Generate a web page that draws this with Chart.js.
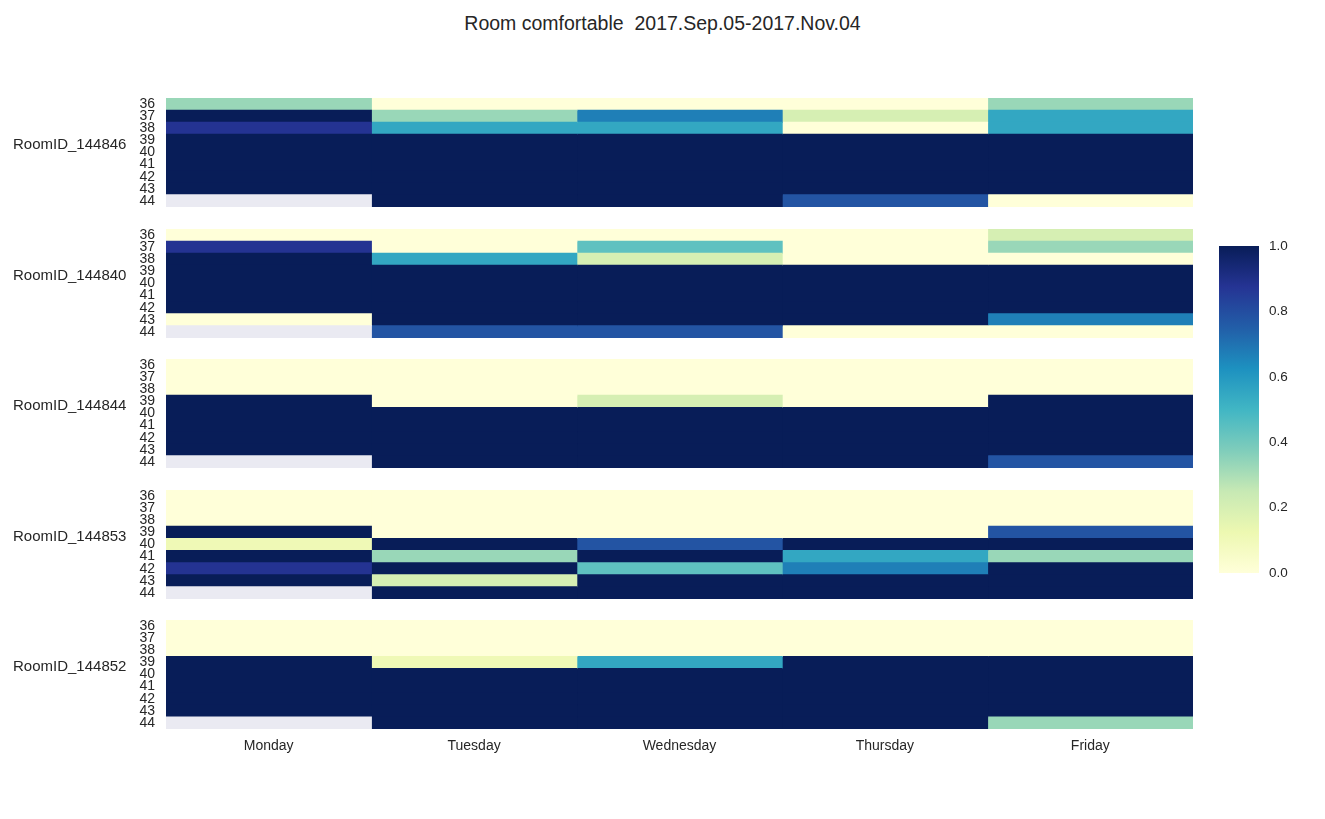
<!DOCTYPE html>
<html>
<head>
<meta charset="utf-8">
<script src="https://cdn.jsdelivr.net/npm/chart.js@4"></script>
<style>
  body { margin: 0; background: #fff; width: 1325px; height: 819px; position: relative; overflow: hidden; }
  .box { position: absolute; }
  #title { position: absolute; top: 12px; left: 0; width: 1325px; text-align: center; white-space: pre;
           font: 19.5px "Liberation Sans", Arial, sans-serif; color: #262626; }
</style>
</head>
<body>
<div id="title">Room comfortable  2017.Sep.05-2017.Nov.04</div>
<div class="box" style="left:0;top:98px;width:1193px;height:109px"><canvas id="p0"></canvas></div>
<div class="box" style="left:0;top:229px;width:1193px;height:109px"><canvas id="p1"></canvas></div>
<div class="box" style="left:0;top:359px;width:1193px;height:109px"><canvas id="p2"></canvas></div>
<div class="box" style="left:0;top:490px;width:1193px;height:109px"><canvas id="p3"></canvas></div>
<div class="box" style="left:0;top:620px;width:1193px;height:140px"><canvas id="p4"></canvas></div>
<div class="box" style="left:1219px;top:236px;width:100px;height:347px"><canvas id="cbar"></canvas></div>
<script>
const days = ['Monday', 'Tuesday', 'Wednesday', 'Thursday', 'Friday'];
const rows = ['36', '37', '38', '39', '40', '41', '42', '43', '44'];
const rooms = ['RoomID_144846', 'RoomID_144840', 'RoomID_144844', 'RoomID_144853', 'RoomID_144852'];
const cbarTicks = [0, 0.2, 0.4, 0.6, 0.8, 1.0];

// one line per row (36..44), one value per day (Mon..Fri); null = no data
const room144846 = [
  [0.33, 0, 0, 0, 0.33],
  [1, 0.33, 0.67, 0.2, 0.55],
  [0.88, 0.55, 0.55, 0, 0.55],
  [1, 1, 1, 1, 1],
  [1, 1, 1, 1, 1],
  [1, 1, 1, 1, 1],
  [1, 1, 1, 1, 1],
  [1, 1, 1, 1, 1],
  [null, 1, 1, 0.78, 0]
];
const room144840 = [
  [0, 0, 0, 0, 0.2],
  [0.88, 0, 0.44, 0, 0.33],
  [1, 0.55, 0.2, 0, 0],
  [1, 1, 1, 1, 1],
  [1, 1, 1, 1, 1],
  [1, 1, 1, 1, 1],
  [1, 1, 1, 1, 1],
  [0, 1, 1, 1, 0.67],
  [null, 0.78, 0.78, 0, 0]
];
const room144844 = [
  [0, 0, 0, 0, 0],
  [0, 0, 0, 0, 0],
  [0, 0, 0, 0, 0],
  [1, 0, 0.2, 0, 1],
  [1, 1, 1, 1, 1],
  [1, 1, 1, 1, 1],
  [1, 1, 1, 1, 1],
  [1, 1, 1, 1, 1],
  [null, 1, 1, 1, 0.78]
];
const room144853 = [
  [0, 0, 0, 0, 0],
  [0, 0, 0, 0, 0],
  [0, 0, 0, 0, 0],
  [1, 0, 0, 0, 0.78],
  [0.11, 1, 0.78, 1, 1],
  [1, 0.33, 1, 0.55, 0.33],
  [0.88, 1, 0.44, 0.67, 1],
  [1, 0.2, 1, 1, 1],
  [null, 1, 1, 1, 1]
];
const room144852 = [
  [0, 0, 0, 0, 0],
  [0, 0, 0, 0, 0],
  [0, 0, 0, 0, 0],
  [1, 0.11, 0.55, 1, 1],
  [1, 1, 1, 1, 1],
  [1, 1, 1, 1, 1],
  [1, 1, 1, 1, 1],
  [1, 1, 1, 1, 1],
  [null, 1, 1, 1, 0.33]
];
const roomData = [room144846, room144840, room144844, room144853, room144852];

// YlGnBu
const stops = ['#ffffd9', '#edf8b1', '#c7e9b4', '#7fcdbb', '#41b6c4', '#1d91c0', '#225ea8', '#253494', '#081d58'];
function hex(c) { return [1, 3, 5].map(i => parseInt(c.substr(i, 2), 16)); }
function ylgnbu(v) {
  if (v === null) return '#eaeaf2';
  const t = Math.max(0, Math.min(1, v)) * (stops.length - 1);
  const i = Math.min(Math.floor(t), stops.length - 2);
  const f = t - i;
  const a = hex(stops[i]), b = hex(stops[i + 1]);
  const c = a.map((x, k) => Math.round(x + (b[k] - x) * f));
  return `rgb(${c[0]},${c[1]},${c[2]})`;
}

const font = '"Liberation Sans", Arial, sans-serif';
const txt = '#262626';

// room name to the left of the row labels, a bit above the middle
const roomLabel = {
  id: 'roomLabel',
  afterDraw(chart, args, opts) {
    const { ctx, chartArea } = chart;
    ctx.save();
    ctx.font = `15px ${font}`;
    ctx.fillStyle = txt;
    ctx.textBaseline = 'middle';
    ctx.fillText(opts.text, 13, (chartArea.top + chartArea.bottom) / 2 - 8);
    ctx.restore();
  }
};

rooms.forEach((room, p) => {
  const vals = roomData[p];
  const last = p === rooms.length - 1;
  new Chart(document.getElementById('p' + p), {
    type: 'bar',
    data: {
      labels: rows,
      datasets: days.map((d, j) => ({
        label: d,
        data: rows.map(() => 1),
        backgroundColor: vals.map(r => ylgnbu(r[j])),
        borderWidth: 0,
        inflateAmount: 0.5,
        barPercentage: 1,
        categoryPercentage: 1
      }))
    },
    options: {
      indexAxis: 'y',
      responsive: true,
      maintainAspectRatio: false,
      animation: false,
      layout: { padding: 0 },
      plugins: {
        legend: { display: false },
        tooltip: { enabled: false },
        roomLabel: { text: room }
      },
      scales: {
        x: {
          stacked: true, min: 0, max: 5,
          display: last,
          grid: { display: false, drawTicks: true, tickLength: 8 },
          border: { display: false },
          afterBuildTicks: ax => { ax.ticks = days.map((d, i) => ({ value: i + 0.5 })); },
          afterFit: ax => { if (last) ax.height = 31; },
          ticks: { padding: 1, color: txt, font: { family: font, size: 14 }, callback: (v, i) => days[i] }
        },
        y: {
          stacked: true,
          grid: { display: false, drawTicks: true, tickLength: 11 },
          border: { display: false },
          afterFit: ax => { ax.width = 166; },
          ticks: { autoSkip: false, padding: 0, color: txt, font: { family: font, size: 14, lineHeight: 0.01 } }
        }
      }
    },
    plugins: [roomLabel]
  });
});

// colour bar
new Chart(document.getElementById('cbar'), {
  type: 'bar',
  data: {
    labels: [''],
    datasets: [{
      data: [1],
      borderWidth: 0,
      barPercentage: 1,
      categoryPercentage: 1,
      backgroundColor: c => {
        const a = c.chart.chartArea;
        if (!a) return null;
        const g = c.chart.ctx.createLinearGradient(0, a.bottom, 0, a.top);
        stops.forEach((s, i) => g.addColorStop(i / (stops.length - 1), s));
        return g;
      }
    }]
  },
  options: {
    responsive: true,
    maintainAspectRatio: false,
    animation: false,
    layout: { padding: { top: 10, bottom: 10 } },
    plugins: { legend: { display: false }, tooltip: { enabled: false } },
    scales: {
      x: { display: false },
      y: {
        position: 'right', min: 0, max: 1,
        grid: { display: false, drawTicks: true, tickLength: 10 },
        border: { display: false },
        afterBuildTicks: ax => { ax.ticks = cbarTicks.map(v => ({ value: v })); },
        afterFit: ax => { ax.width = 60; },
        ticks: { padding: 0, color: txt, font: { family: font, size: 13.5, lineHeight: 0.01 }, callback: v => v.toFixed(1) }
      }
    }
  }
});
</script>
</body>
</html>
